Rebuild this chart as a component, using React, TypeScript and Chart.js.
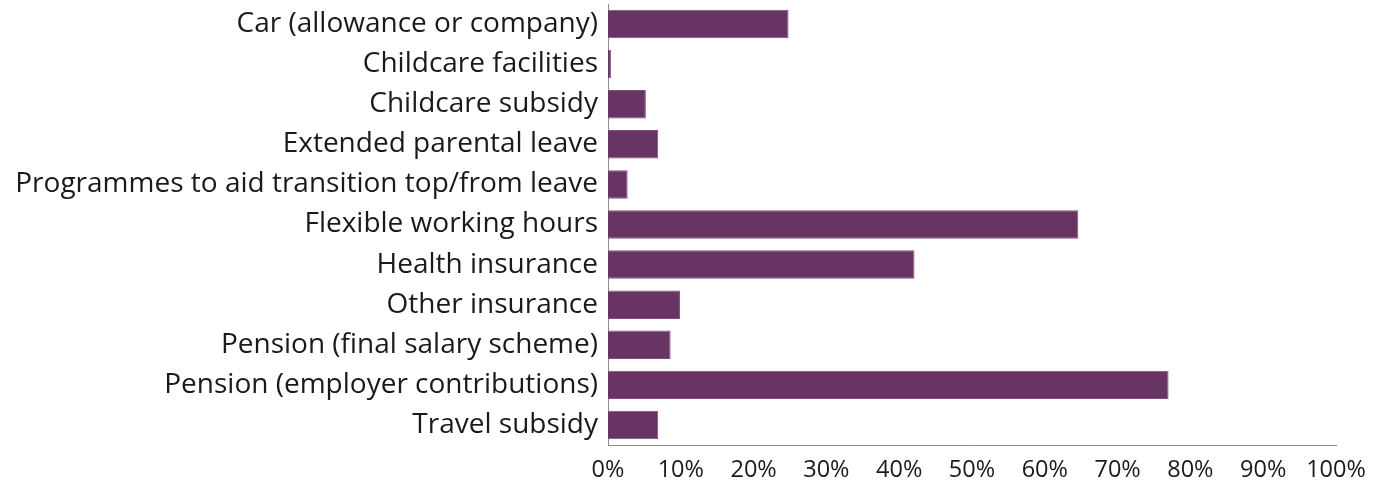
import React, { useEffect, useRef } from "react";
import { Chart, registerables } from "chart.js";

Chart.register(...registerables);

const categories = [
  "Car (allowance or company)",
  "Childcare facilities",
  "Childcare subsidy",
  "Extended parental leave",
  "Programmes to aid transition top/from leave",
  "Flexible working hours",
  "Health insurance",
  "Other insurance",
  "Pension (final salary scheme)",
  "Pension (employer contributions)",
  "Travel subsidy",
];

const values = [24.8, 0.4, 5.2, 6.9, 2.7, 64.6, 42.1, 9.9, 8.6, 77.0, 6.9];

const xTicks = [0, 10, 20, 30, 40, 50, 60, 70, 80, 90, 100];

const FONT = "'Open Sans', 'Noto Sans', sans-serif";

export default function App() {
  const ref = useRef<HTMLCanvasElement | null>(null);

  useEffect(() => {
    if (!ref.current) return;
    const chart = new Chart(ref.current, {
      type: "bar",
      data: {
        labels: categories,
        datasets: [
          {
            data: values,
            backgroundColor: "#673464",
            borderColor: "#7d5079",
            borderWidth: 1,
            barPercentage: 0.71,
            categoryPercentage: 1,
          },
        ],
      },
      options: {
        indexAxis: "y",
        animation: false,
        responsive: false,
        maintainAspectRatio: false,
        layout: { padding: { top: 4, right: 46, left: 0, bottom: 0 } },
        plugins: { legend: { display: false }, tooltip: { enabled: false } },
        scales: {
          x: {
            min: 0,
            max: 100,
            afterBuildTicks: (scale: any) => {
              scale.ticks = xTicks.map((v) => ({ value: v }));
            },
            afterFit: (scale: any) => {
              scale.height = 36;
              scale.paddingLeft = 0;
              scale.paddingRight = 0;
            },
            grid: { display: false, drawTicks: false },
            border: { display: true, color: "#8c8c8c", width: 1 },
            ticks: {
              color: "#1a1a1a",
              padding: 11,
              font: { family: FONT, size: 23.5 },
              callback: (v: any) => v + "%",
              maxRotation: 0,
              autoSkip: false,
            },
          },
          y: {
            afterFit: (scale: any) => {
              scale.width = 608;
              scale.paddingTop = 0;
              scale.paddingBottom = 0;
            },
            grid: { display: false, drawTicks: false },
            border: { display: true, color: "#8c8c8c", width: 1 },
            ticks: {
              color: "#1a1a1a",
              padding: 10,
              font: { family: FONT, size: 28 },
              autoSkip: false,
            },
          },
        },
      },
    });
    return () => chart.destroy();
  }, []);

  return (
    <div style={{ position: "fixed", left: 0, top: 0, width: 1382, height: 481, background: "#fff" }}>
      <canvas ref={ref} width={1382} height={481} style={{ width: 1382, height: 481 }} />
    </div>
  );
}
